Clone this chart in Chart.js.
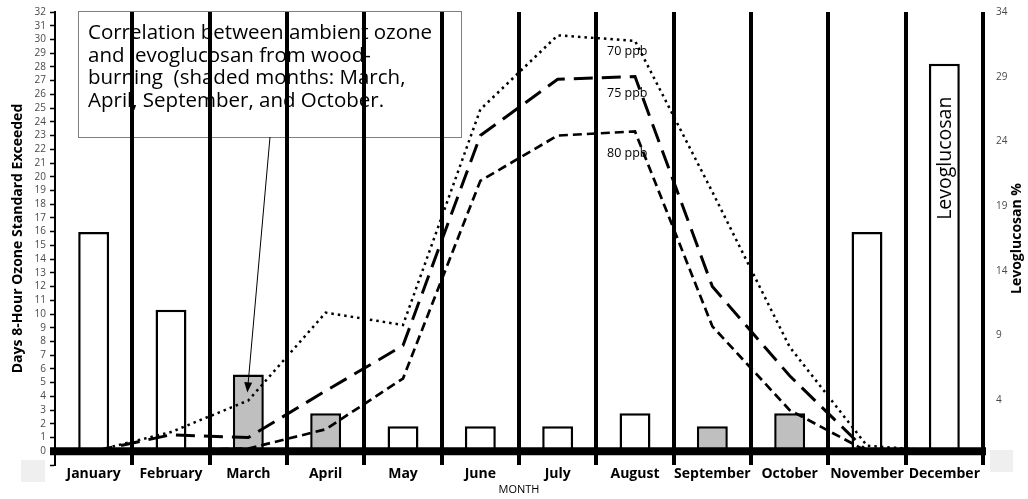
<!DOCTYPE html>
<html>
<head>
<meta charset="utf-8">
<title>Ozone exceedances and levoglucosan</title>
<script src="https://cdn.jsdelivr.net/npm/chart.js@4.4.1/dist/chart.umd.min.js"></script>
<style>
    html, body { margin: 0; padding: 0; background: #fff; }
    #wrap { width: 1028px; height: 499px; }
</style>
</head>
<body>
<div id="wrap"><canvas id="ozoneChart" width="1028" height="499"></canvas></div>
<script>
// --- data ---
const months = ['January', 'February', 'March', 'April', 'May', 'June', 'July',
    'August', 'September', 'October', 'November', 'December'];
const shadedMonths = ['March', 'April', 'September', 'October'];

// levoglucosan % (right axis)
const levoglucosan = [17, 11, 6, 3, 2, 2, 2, 3, 2, 3, 17, 30];

// days 8-hour ozone standard exceeded (left axis)
const ozone70 = [0, 1.4, 3.7, 10.1, 9.2, 24.9, 30.3, 29.9, 18.9, 7.6, 0.4, 0];
const ozone75 = [0, 1.2, 1.0, 4.4, 7.7, 23.0, 27.1, 27.3, 12.0, 5.5, 0, 0];
const ozone80 = [0, 0.1, 0.2, 1.6, 5.3, 19.7, 23.0, 23.3, 9.1, 3.0, 0, 0];

const noteLines = [
    'Correlation between ambient ozone',
    'and levoglucosan from wood-',
    'burning  (shaded months: March,',
    'April, September, and October.'
];
const ppbLabels = ['70 ppb', '75 ppb', '80 ppb'];

const FONT = '"Open Sans", "Noto Sans", sans-serif';
const TICK_GREY = '#4a4a4a';

// extra drawing: note box, arrow, zero line, in-chart labels
const annotationPlugin = {
    id: 'annotations',
    beforeDraw(chart) {
        const ctx = chart.ctx;
        ctx.save();
        ctx.fillStyle = '#fff';
        ctx.fillRect(78, 11, 383, 126);
        ctx.strokeStyle = '#7f7f7f';
        ctx.lineWidth = 1;
        ctx.strokeRect(78.5, 11.5, 383, 126);
        ctx.fillStyle = '#000';
        ctx.font = '20.5px ' + FONT;
        ctx.textBaseline = 'middle';
        noteLines.forEach((t, i) => ctx.fillText(t, 88, 33 + i * 22.7));
        ctx.restore();
    },
    afterDatasetsDraw(chart) {
        const ctx = chart.ctx;
        const x = chart.scales.x;
        const y = chart.scales.y;
        const y1 = chart.scales.y1;
        const area = chart.chartArea;

        ctx.save();
        // thick zero line
        const y0 = y.getPixelForValue(0);
        ctx.strokeStyle = '#000';
        ctx.lineWidth = 8;
        ctx.beginPath();
        ctx.moveTo(area.left - 5, y0);
        ctx.lineTo(area.right + 3, y0);
        ctx.stroke();

        // arrow from the note box to the March bar
        const sx = 270, sy = 137;
        const tx = x.getPixelForValue(2) - 1;
        const ty = y1.getPixelForValue(levoglucosan[2]) + 18;
        const ang = Math.atan2(ty - sy, tx - sx);
        ctx.lineWidth = 1;
        ctx.beginPath();
        ctx.moveTo(sx, sy);
        ctx.lineTo(tx - Math.cos(ang) * 6, ty - Math.sin(ang) * 6);
        ctx.stroke();
        ctx.fillStyle = '#000';
        ctx.beginPath();
        ctx.moveTo(tx, ty);
        ctx.lineTo(tx - Math.cos(ang) * 10 + Math.sin(ang) * 4, ty - Math.sin(ang) * 10 - Math.cos(ang) * 4);
        ctx.lineTo(tx - Math.cos(ang) * 10 - Math.sin(ang) * 4, ty - Math.sin(ang) * 10 + Math.cos(ang) * 4);
        ctx.closePath();
        ctx.fill();

        // ppb labels next to the August peak
        const levels = [29.1, 26.1, 21.7];
        ctx.font = '12.5px ' + FONT;
        ctx.textBaseline = 'middle';
        ctx.textAlign = 'left';
        ppbLabels.forEach((t, i) => {
            ctx.fillText(t, x.getPixelForValue(7) - 28, y.getPixelForValue(levels[i]));
        });

        // vertical label inside the December bar
        ctx.save();
        ctx.translate(x.getPixelForValue(11), y1.getPixelForValue(22.7));
        ctx.rotate(-Math.PI / 2);
        ctx.font = '19.5px ' + FONT;
        ctx.textAlign = 'center';
        ctx.fillText('Levoglucosan', 0, 1);
        ctx.restore();

        // right axis title, reading bottom to top
        ctx.translate(1017, (area.top + area.bottom) / 2);
        ctx.rotate(-Math.PI / 2);
        ctx.font = 'bold 14px ' + FONT;
        ctx.textAlign = 'center';
        ctx.fillText('Levoglucosan %', 0, 0);
        ctx.restore();
    },
    afterDraw(chart) {
        // light grey patches over the -1 labels
        const ctx = chart.ctx;
        ctx.save();
        ctx.fillStyle = '#efefef';
        ctx.fillRect(21, 460, 24, 22);
        ctx.fillRect(990, 450, 23, 22);
        ctx.restore();
    }
};

new Chart(document.getElementById('ozoneChart'), {
    type: 'bar',
    data: {
        labels: months,
        datasets: [
            {
                type: 'line',
                label: '70 ppb',
                data: ozone70,
                yAxisID: 'y',
                borderColor: '#000',
                borderWidth: 2.5,
                borderDash: [2.5, 4],
                pointRadius: 0,
                tension: 0,
                order: 1
            },
            {
                type: 'line',
                label: '75 ppb',
                data: ozone75,
                yAxisID: 'y',
                borderColor: '#000',
                borderWidth: 3,
                borderDash: [19, 9],
                pointRadius: 0,
                tension: 0,
                order: 1
            },
            {
                type: 'line',
                label: '80 ppb',
                data: ozone80,
                yAxisID: 'y',
                borderColor: '#000',
                borderWidth: 2.7,
                borderDash: [9, 5],
                pointRadius: 0,
                tension: 0,
                order: 1
            },
            {
                type: 'bar',
                label: 'Levoglucosan',
                data: levoglucosan,
                yAxisID: 'y1',
                backgroundColor: months.map(m => shadedMonths.includes(m) ? '#bfbfbf' : '#ffffff'),
                borderColor: '#000',
                borderWidth: 2.5,
                borderSkipped: false,
                barPercentage: 0.4,
                categoryPercentage: 1.0,
                order: 2
            }
        ]
    },
    options: {
        responsive: false,
        animation: false,
        layout: { padding: { top: 12, left: 0, right: 0, bottom: 0 } },
        plugins: {
            legend: { display: false },
            tooltip: { enabled: false }
        },
        scales: {
            x: {
                offset: true,
                grid: {
                    offset: true,
                    color: '#000',
                    lineWidth: (c) => c.index === 0 ? 2 : 4,
                    drawTicks: false
                },
                border: { display: false },
                ticks: {
                    color: '#000',
                    padding: 1,
                    maxRotation: 0,
                    minRotation: 0,
                    autoSkip: false,
                    font: { family: FONT, size: 14, weight: 'bold' }
                },
                title: {
                    display: true,
                    text: 'MONTH',
                    color: '#000',
                    padding: { top: 0, bottom: 3 },
                    font: { family: FONT, size: 11 }
                },
                afterFit: (s) => { s.height = 34; }
            },
            y: {
                position: 'left',
                min: -1,
                max: 32,
                grid: {
                    drawOnChartArea: false,
                    drawTicks: true,
                    tickLength: 5,
                    tickColor: '#000',
                    tickWidth: 1.5
                },
                border: { display: true, color: '#000', width: 2 },
                ticks: {
                    stepSize: 1,
                    autoSkip: false,
                    padding: 4,
                    color: TICK_GREY,
                    font: { family: FONT, size: 10 },
                    callback: (v) => v < 0 ? '' : v
                },
                title: {
                    display: true,
                    text: 'Days 8-Hour Ozone Standard Exceeded',
                    color: '#000',
                    padding: { top: 10, bottom: 0 },
                    font: { family: FONT, size: 14, weight: 'bold' }
                },
                afterFit: (s) => { s.width = 55; }
            },
            y1: {
                position: 'right',
                min: -1,
                max: 34,
                grid: {
                    drawOnChartArea: false,
                    drawTicks: true,
                    tickLength: 10,
                    tickColor: 'rgba(0,0,0,0)'
                },
                border: { display: false },
                ticks: {
                    stepSize: 5,
                    autoSkip: false,
                    padding: 3,
                    color: TICK_GREY,
                    font: { family: FONT, size: 10 },
                    callback: (v) => v < 0 ? '' : v
                },
                title: { display: false },
                afterFit: (s) => { s.width = 45; }
            }
        }
    },
    plugins: [annotationPlugin]
});
</script>
</body>
</html>
